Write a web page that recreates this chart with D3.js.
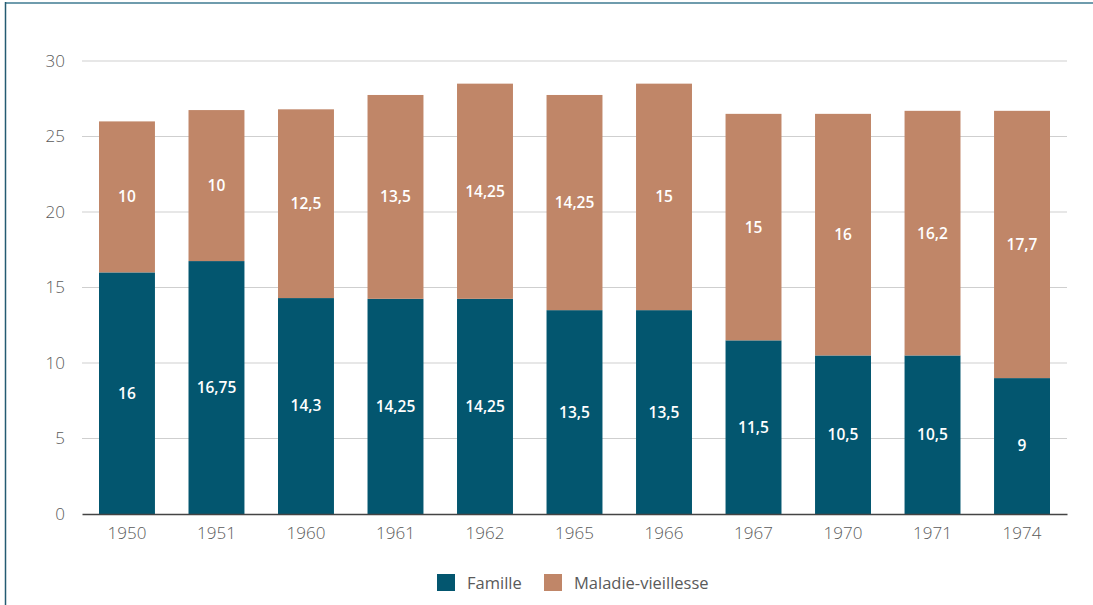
<!DOCTYPE html>
<html>
<head>
<meta charset="utf-8">
<script src="https://cdn.jsdelivr.net/npm/d3@7"></script>
<style>
  body { margin: 0; background: #fff; }
  svg { display: block; }
</style>
</head>
<body>
<div class="barchart"></div>
<script>
var years = ["1950", "1951", "1960", "1961", "1962", "1965", "1966", "1967", "1970", "1971", "1974"];
var famille = [16, 16.75, 14.3, 14.25, 14.25, 13.5, 13.5, 11.5, 10.5, 10.5, 9];
var maladie = [10, 10, 12.5, 13.5, 14.25, 14.25, 15, 15, 16, 16.2, 17.7];
var yTicks = [0, 5, 10, 15, 20, 25, 30];
var seriesNames = ["Famille", "Maladie-vieillesse"];
var colors = ["#03566f", "#c08668"];

var svgWidth = 1093;
var svgHeight = 605;

var margin = { top: 61, right: 26, bottom: 91, left: 82 };
var width = svgWidth - margin.left - margin.right;
var height = svgHeight - margin.top - margin.bottom;

var svg = d3.select(".barchart")
  .append("svg")
  .attr("width", svgWidth)
  .attr("height", svgHeight)
  .style("font-family", "'Open Sans', sans-serif");

// frame lines
svg.append("line")
  .attr("x1", 5).attr("x2", svgWidth).attr("y1", 3).attr("y2", 3)
  .attr("stroke", "#6f9cad").attr("stroke-width", 2);
svg.append("line")
  .attr("x1", 5.5).attr("x2", 5.5).attr("y1", 2).attr("y2", svgHeight)
  .attr("stroke", "#245b72").attr("stroke-width", 1.5);

var chartGroup = svg.append("g")
  .attr("transform", `translate(${margin.left}, ${margin.top})`);

var data = years.map((y, i) => ({ year: y, Famille: famille[i], "Maladie-vieillesse": maladie[i] }));
var stacked = d3.stack().keys(seriesNames)(data);

var x = d3.scaleBand()
  .domain(years)
  .range([0, width])
  .paddingInner(0.375)
  .paddingOuter(0.19);

var y = d3.scaleLinear()
  .domain([0, 30])
  .range([height, 0]);

// gridlines
chartGroup.append("g")
  .selectAll("line")
  .data(yTicks.filter(d => d > 0))
  .enter()
  .append("line")
  .attr("x1", 0)
  .attr("x2", width)
  .attr("y1", d => y(d))
  .attr("y2", d => y(d))
  .attr("stroke", "#cfcfcf")
  .attr("stroke-width", 1);

// y tick labels
var leftAxis = d3.axisLeft(y).tickValues(yTicks).tickSize(0).tickPadding(17);
var yAxis = chartGroup.append("g").call(leftAxis);
yAxis.select(".domain").remove();
yAxis.selectAll("text")
  .attr("font-size", 17)
  .attr("fill", "#5a5a5a")
  .attr("font-weight", 300)
  .attr("font-family", "'Open Sans', sans-serif");

// bars
var layers = chartGroup.selectAll(".layer")
  .data(stacked)
  .enter()
  .append("g")
  .attr("fill", (d, i) => colors[i]);

layers.selectAll("rect")
  .data(d => d)
  .enter()
  .append("rect")
  .attr("x", d => x(d.data.year))
  .attr("width", x.bandwidth())
  .attr("y", d => y(d[1]))
  .attr("height", d => y(d[0]) - y(d[1]));

// value labels
layers.selectAll("text")
  .data(d => d.map(p => ({ p: p, key: d.key })))
  .enter()
  .append("text")
  .attr("x", d => x(d.p.data.year) + x.bandwidth() / 2)
  .attr("y", d => y((d.p[0] + d.p[1]) / 2))
  .attr("dy", "0.35em")
  .attr("text-anchor", "middle")
  .attr("fill", "#fff")
  .attr("font-size", 15.5)
  .attr("font-weight", 600)
  .attr("font-family", "'Open Sans', sans-serif")
  .text(d => String(d.p.data[d.key]).replace(".", ","));

// x axis baseline and labels
var bottomAxis = d3.axisBottom(x).tickSize(0).tickPadding(13);
var xAxis = chartGroup.append("g")
  .attr("transform", `translate(0, ${height})`)
  .call(bottomAxis);
xAxis.select(".domain").attr("stroke", "#444").attr("stroke-width", 1.5);
xAxis.selectAll("text")
  .attr("font-size", 17)
  .attr("fill", "#5a5a5a")
  .attr("font-weight", 300)
  .attr("font-family", "'Open Sans', sans-serif");

// legend
var legend = svg.append("g").attr("transform", "translate(437, 574)");
var legendX = [0, 107];
seriesNames.forEach(function(name, i) {
  var g = legend.append("g").attr("transform", `translate(${legendX[i]}, 0)`);
  g.append("rect").attr("width", 18).attr("height", 17).attr("fill", colors[i]);
  g.append("text")
    .attr("x", 30)
    .attr("y", 9)
    .attr("dy", "0.35em")
    .attr("font-size", 16.5)
    .attr("fill", "#5a5a5a")
    .text(name);
});
</script>
</body>
</html>
